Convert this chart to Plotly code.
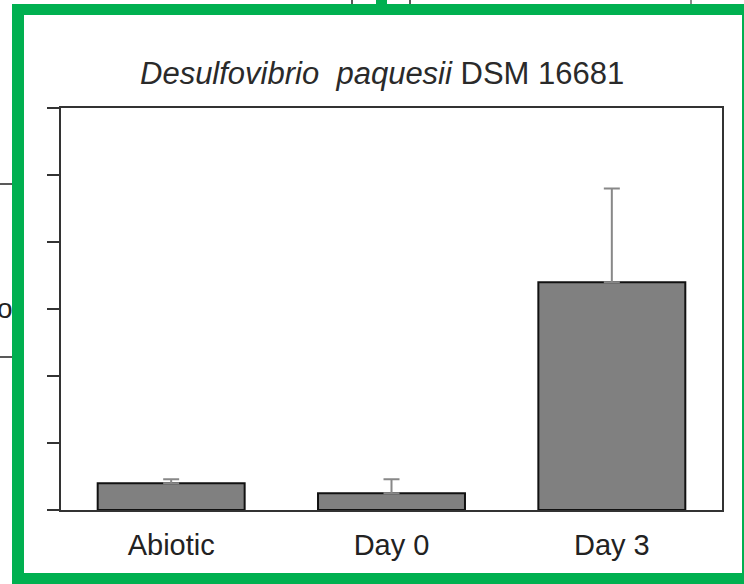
import plotly.graph_objects as go

# values (axis 0..6, no tick labels shown)
Groups = ["Abiotic", "Day 0", "Day 3"]
Means = [0.40, 0.25, 3.40]
Errors = [0.06, 0.21, 1.40]
NoErr = [0, 0, 0]
YTicks = [0, 1, 2, 3, 4, 5, 6]

W, H = 744, 584
GREEN = "#00B050"


def px(x):
    return x / W


def py(y):
    return 1 - y / H


def box(x0, y0, x1, y1, color):
    return dict(type="rect", xref="paper", yref="paper",
                x0=px(x0), x1=px(x1), y0=py(y1), y1=py(y0),
                fillcolor=color, line=dict(width=0), layer="above")


def seg(x0, y0, x1, y1, color, w=1.5):
    return dict(type="line", xref="paper", yref="paper",
                x0=px(x0), x1=px(x1), y0=py(y0), y1=py(y1),
                line=dict(color=color, width=w))


fig = go.Figure()
fig.add_trace(go.Bar(
    x=Groups, y=Means, width=0.667,
    marker=dict(color="#808080", line=dict(color="#111111", width=2)),
    error_y=dict(type="data", symmetric=False, array=Errors, arrayminus=NoErr,
                 visible=True, color="#888888", thickness=2, width=8),
))

shapes = [
    # green frame
    box(12, 4, 24, 584, GREEN),
    box(12, 4, 744, 15, GREEN),
    box(742, 4, 744, 584, GREEN),
    box(12, 573, 744, 584, GREEN),
    # bits of the neighbouring page
    seg(352, 0, 352, 4, "#222222"),
    seg(410, 0, 410, 4, "#222222"),
    seg(691, 0, 691, 4, "#666666"),
    box(376, 0, 387, 4, GREEN),
    seg(0, 184, 12, 184, "#222222"),
    seg(0, 357, 12, 357, "#222222"),
]

fig.update_layout(
    width=W, height=H,
    margin=dict(l=0, r=0, t=0, b=0, pad=0),
    paper_bgcolor="white", plot_bgcolor="white",
    showlegend=False,
    shapes=shapes,
    font=dict(family="Liberation Sans, Arial, sans-serif", color="#222222"),
    annotations=[
        dict(text="<i>Desulfovibrio  paquesii</i> DSM 16681",
             x=px(382), y=py(54), xref="paper", yref="paper",
             showarrow=False, font=dict(size=31, color="#2a2a2a")),
        dict(text="o", x=px(-5), y=py(309), xref="paper", yref="paper",
             xanchor="left", showarrow=False,
             font=dict(size=28, color="#222222")),
    ],
    xaxis=dict(domain=[px(61), px(722)], range=[-0.5, 2.5],
               showline=True, linecolor="#333333", linewidth=2, mirror=True,
               ticks="", ticklabelstandoff=8,
               tickfont=dict(size=29, color="#222222"),
               showgrid=False, zeroline=False),
    yaxis=dict(domain=[py(510), py(108)], range=[0, 6],
               tickvals=YTicks, showticklabels=False,
               ticks="outside", ticklen=12, tickwidth=2, tickcolor="#333333",
               showline=True, linecolor="#333333", linewidth=2, mirror=True,
               showgrid=False, zeroline=False),
)

# the page body has a default 8px margin; drop it so the figure sits at 0,0
fig.write_html("out.html", config={"displayModeBar": False},
               post_script="document.body.style.margin='0';")
